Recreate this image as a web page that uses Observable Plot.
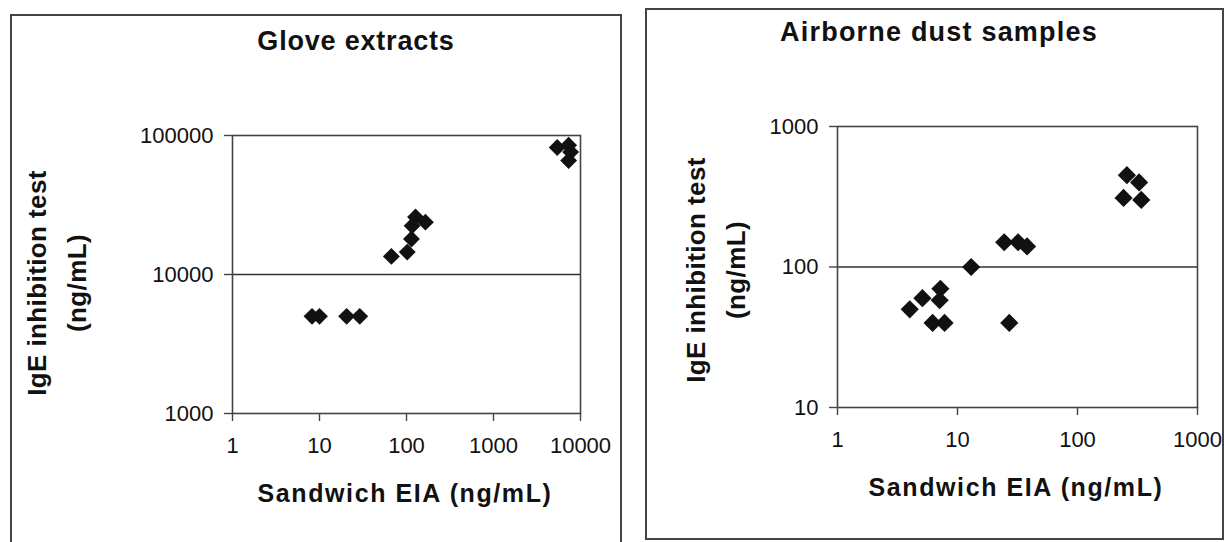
<!DOCTYPE html>
<html><head><meta charset="utf-8">
<script src="https://cdn.jsdelivr.net/npm/d3@7"></script>
<script src="https://cdn.jsdelivr.net/npm/@observablehq/plot@0.6"></script>
<style>
body{margin:0;background:#fff;}
#page{position:relative;width:1224px;height:542px;overflow:hidden;background:#fff;font-family:"Liberation Sans",Arial,sans-serif;color:#111;}
.box{position:absolute;border:2px solid #444;box-sizing:border-box;}
.t{position:absolute;white-space:nowrap;font-weight:bold;line-height:1;transform:translateX(-50%);}
.yt{position:absolute;white-space:pre;font-weight:bold;text-align:center;line-height:40px;transform:translate(-50%,-50%) rotate(-90deg);}
.plot{position:absolute;top:0;}
.plot svg{overflow:visible;}
</style></head><body>
<div id="page">
  <div class="box" style="left:10px;top:14px;width:612px;height:600px"></div>
  <div class="box" style="left:645px;top:8px;width:579px;height:532px"></div>
  <div id="p1" class="plot" style="left:0px"></div>
  <div id="p2" class="plot" style="left:646px"></div>
  <div id="t1" class="t" style="left:356px;top:28px;font-size:27px;letter-spacing:0.8px"></div>
  <div id="t2" class="t" style="left:939px;top:19px;font-size:27px;letter-spacing:1.2px"></div>
  <div id="y1" class="yt" style="left:57px;top:283px;font-size:26px;letter-spacing:0.4px"></div>
  <div id="y2" class="yt" style="left:716px;top:270px;font-size:26px;letter-spacing:0.4px"></div>
  <div id="x1" class="t" style="left:405px;top:481px;font-size:25px;letter-spacing:1.6px"></div>
  <div id="x2" class="t" style="left:1016px;top:475px;font-size:25px;letter-spacing:1.6px"></div>
</div>
<script>
// Glove extracts
const gloveX = [8.2, 10, 20.5, 29, 67, 102, 114, 116, 127, 165, 5400, 7300, 7700, 7300];
const gloveY = [5000, 5000, 5000, 5000, 13500, 14500, 18000, 22400, 25900, 23800, 82000, 85000, 76000, 66000];
// Airborne dust samples
const dustX = [4, 5.1, 7.2, 7.1, 6.2, 7.8, 13, 24.5, 32, 38, 27, 258, 326, 242, 340];
const dustY = [50, 60, 70, 58, 40, 40, 100, 150, 150, 140, 40, 450, 400, 310, 300];
// Tick labels
const gloveXTicks = [1, 10, 100, 1000, 10000];
const gloveYTicks = [1000, 10000, 100000];
const dustXTicks = [1, 10, 100, 1000];
const dustYTicks = [10, 100, 1000];
// Texts
const titles = ["Glove extracts", "Airborne dust samples"];
const yTitle = "IgE inhibition test\n(ng/mL)";
const xTitle = "Sandwich EIA (ng/mL)";

function panel(xs, ys, xTicks, yTicks, ref, o) {
  const data = xs.map((x, i) => ({x, y: ys[i]}));
  return Plot.plot({
    width: o.width, height: o.height,
    marginLeft: o.ml, marginRight: o.mr, marginTop: o.mt, marginBottom: o.mb,
    style: {fontFamily: "'Liberation Sans', Arial, sans-serif", fontSize: "22px", color: "#111", background: "transparent", overflow: "visible"},
    x: {type: "log", domain: [xTicks[0], xTicks[xTicks.length - 1]]},
    y: {type: "log", domain: [yTicks[0], yTicks[yTicks.length - 1]]},
    marks: [
      Plot.ruleY([ref], {stroke: "#333", strokeWidth: 1.6}),
      Plot.dot(data, {x: "x", y: "y", symbol: "diamond2", r: o.r, fill: "#111", stroke: "none"}),
      Plot.frame({stroke: "#444", strokeWidth: 1.6}),
      Plot.axisX({ticks: xTicks, tickSize: 8, tickPadding: 16, tickFormat: d => String(d), label: null, stroke: "#444", strokeWidth: 1.4, fontSize: 22}),
      Plot.axisY({ticks: yTicks, tickSize: 8, tickPadding: 11, tickFormat: d => String(d), label: null, stroke: "#444", strokeWidth: 1.4, fontSize: 22})
    ]
  });
}

document.getElementById("p1").append(panel(gloveX, gloveY, gloveXTicks, gloveYTicks, 10000,
  {width: 621, height: 542, ml: 232, mr: 41, mt: 135, mb: 129, r: 7.6}));
document.getElementById("p2").append(panel(dustX, dustY, dustXTicks, dustYTicks, 100,
  {width: 578, height: 542, ml: 191, mr: 27, mt: 126, mb: 135, r: 8.2}));

document.getElementById("t1").textContent = titles[0];
document.getElementById("t2").textContent = titles[1];
document.getElementById("y1").textContent = yTitle;
document.getElementById("y2").textContent = yTitle;
document.getElementById("x1").textContent = xTitle;
document.getElementById("x2").textContent = xTitle;
</script>
</body></html>
